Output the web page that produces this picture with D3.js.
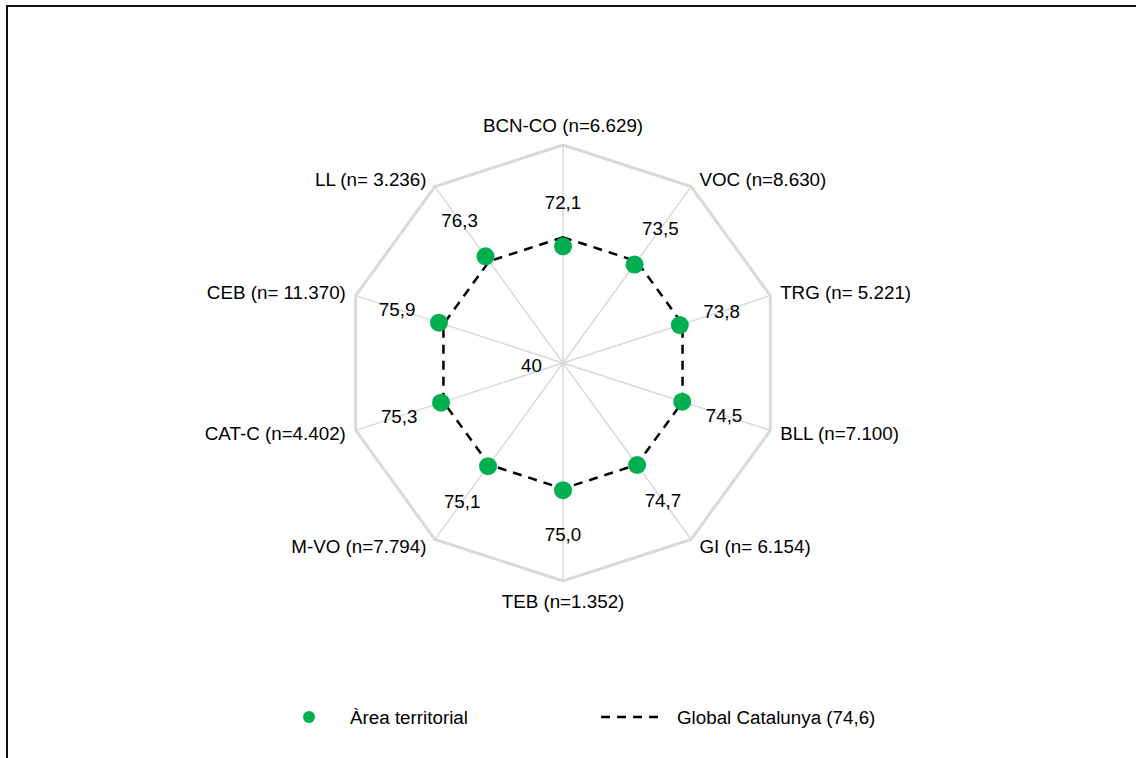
<!DOCTYPE html>
<html>
<head>
<meta charset="utf-8">
<script src="https://cdn.jsdelivr.net/npm/d3@7"></script>
<style>
    body { margin: 0; background: #fff; }
    svg text { font-family: "Liberation Sans", Arial, sans-serif; fill: #000; }
</style>
</head>
<body>
<div id="chart"></div>
<script>
// Data
const categories = [
    'BCN-CO (n=6.629)', 'VOC (n=8.630)', 'TRG (n= 5.221)', 'BLL (n=7.100)',
    'GI (n= 6.154)', 'TEB (n=1.352)', 'M-VO (n=7.794)', 'CAT-C (n=4.402)',
    'CEB (n= 11.370)', 'LL (n= 3.236)'
];
const areaValues = [72.1, 73.5, 73.8, 74.5, 74.7, 75.0, 75.1, 75.3, 75.9, 76.3];
const globalValue = 74.6;
const scaleDomain = [40, 100];
const seriesNames = ['Àrea territorial', 'Global Catalunya (74,6)'];

const width = 1136, height = 758;
const cx = 563, cy = 363, R = 218;
const green = '#00b050';
const gridColor = '#d9d9d9';
const fontSize = 18.8;

const fmt = d3.formatLocale({ decimal: ',', thousands: '.', grouping: [3], currency: ['', ''] }).format('.1f');

const svg = d3.select('#chart')
    .append('svg')
    .attr('width', width)
    .attr('height', height);

// Frame (only top and left edges visible)
svg.append('rect')
    .attr('x', 7)
    .attr('y', 6)
    .attr('width', width + 20)
    .attr('height', height + 20)
    .attr('fill', 'none')
    .attr('stroke', '#111')
    .attr('stroke-width', 2);

const g = svg.append('g').attr('transform', `translate(${cx},${cy})`);

// Scales
const r = d3.scaleLinear().domain(scaleDomain).range([0, R]);
const angle = d3.scaleLinear().domain([0, categories.length]).range([0, 2 * Math.PI]);

const radial = d3.lineRadial()
    .angle((d, i) => angle(i))
    .radius(d => r(d))
    .curve(d3.curveLinearClosed);

const px = (i, rad) => Math.sin(angle(i)) * rad;
const py = (i, rad) => -Math.cos(angle(i)) * rad;

// Spokes
g.selectAll('.spoke')
    .data(categories)
    .enter()
    .append('line')
    .attr('x1', 0).attr('y1', 0)
    .attr('x2', (d, i) => px(i, R))
    .attr('y2', (d, i) => py(i, R))
    .attr('stroke', gridColor)
    .attr('stroke-width', 1.5);

// Outer decagon
g.append('path')
    .datum(categories.map(() => scaleDomain[1]))
    .attr('d', radial)
    .attr('fill', 'none')
    .attr('stroke', gridColor)
    .attr('stroke-width', 3)
    .attr('stroke-linejoin', 'miter');

// Center tick label
g.append('text')
    .attr('x', -21)
    .attr('y', 2)
    .attr('text-anchor', 'end')
    .attr('dominant-baseline', 'central')
    .style('font-size', fontSize + 'px')
    .text(scaleDomain[0]);

// Global Catalunya dashed polygon
g.append('path')
    .datum(categories.map(() => globalValue))
    .attr('d', radial)
    .attr('fill', 'none')
    .attr('stroke', '#000')
    .attr('stroke-width', 2.5)
    .attr('stroke-dasharray', '9,7');

// Area dots
g.selectAll('.dot')
    .data(areaValues)
    .enter()
    .append('circle')
    .attr('cx', (d, i) => px(i, r(d)))
    .attr('cy', (d, i) => py(i, r(d)))
    .attr('r', 9)
    .attr('fill', green);

// Value labels
g.selectAll('.value-label')
    .data(areaValues)
    .enter()
    .append('text')
    .attr('x', (d, i) => px(i, r(d) + 44))
    .attr('y', (d, i) => py(i, r(d) + 44))
    .attr('text-anchor', 'middle')
    .attr('dominant-baseline', 'central')
    .style('font-size', fontSize + 'px')
    .text(d => fmt(d));

// Category labels
g.selectAll('.cat-label')
    .data(categories)
    .enter()
    .append('text')
    .each(function (d, i) {
        const s = Math.sin(angle(i)), c = Math.cos(angle(i));
        const t = d3.select(this);
        if (Math.abs(s) < 0.01) {
            t.attr('x', 0)
                .attr('y', py(i, R) - 20 * c)
                .attr('text-anchor', 'middle');
        } else {
            t.attr('x', px(i, R) + Math.sign(s) * (6 + 4 * Math.abs(s)))
                .attr('y', py(i, R) - 9 * c)
                .attr('text-anchor', s > 0 ? 'start' : 'end');
        }
    })
    .attr('dominant-baseline', 'central')
    .style('font-size', fontSize + 'px')
    .text(d => d);

// Legend
const legend = svg.append('g').attr('transform', 'translate(0,717)');

legend.append('circle')
    .attr('cx', 309)
    .attr('cy', 0)
    .attr('r', 6)
    .attr('fill', green);

legend.append('text')
    .attr('x', 350)
    .attr('y', 0)
    .attr('dominant-baseline', 'central')
    .style('font-size', fontSize + 'px')
    .text(seriesNames[0]);

legend.append('line')
    .attr('x1', 601).attr('x2', 664)
    .attr('y1', 0).attr('y2', 0)
    .attr('stroke', '#000')
    .attr('stroke-width', 2.5)
    .attr('stroke-dasharray', '9,7');

legend.append('text')
    .attr('x', 677)
    .attr('y', 0)
    .attr('dominant-baseline', 'central')
    .style('font-size', fontSize + 'px')
    .text(seriesNames[1]);
</script>
</body>
</html>
